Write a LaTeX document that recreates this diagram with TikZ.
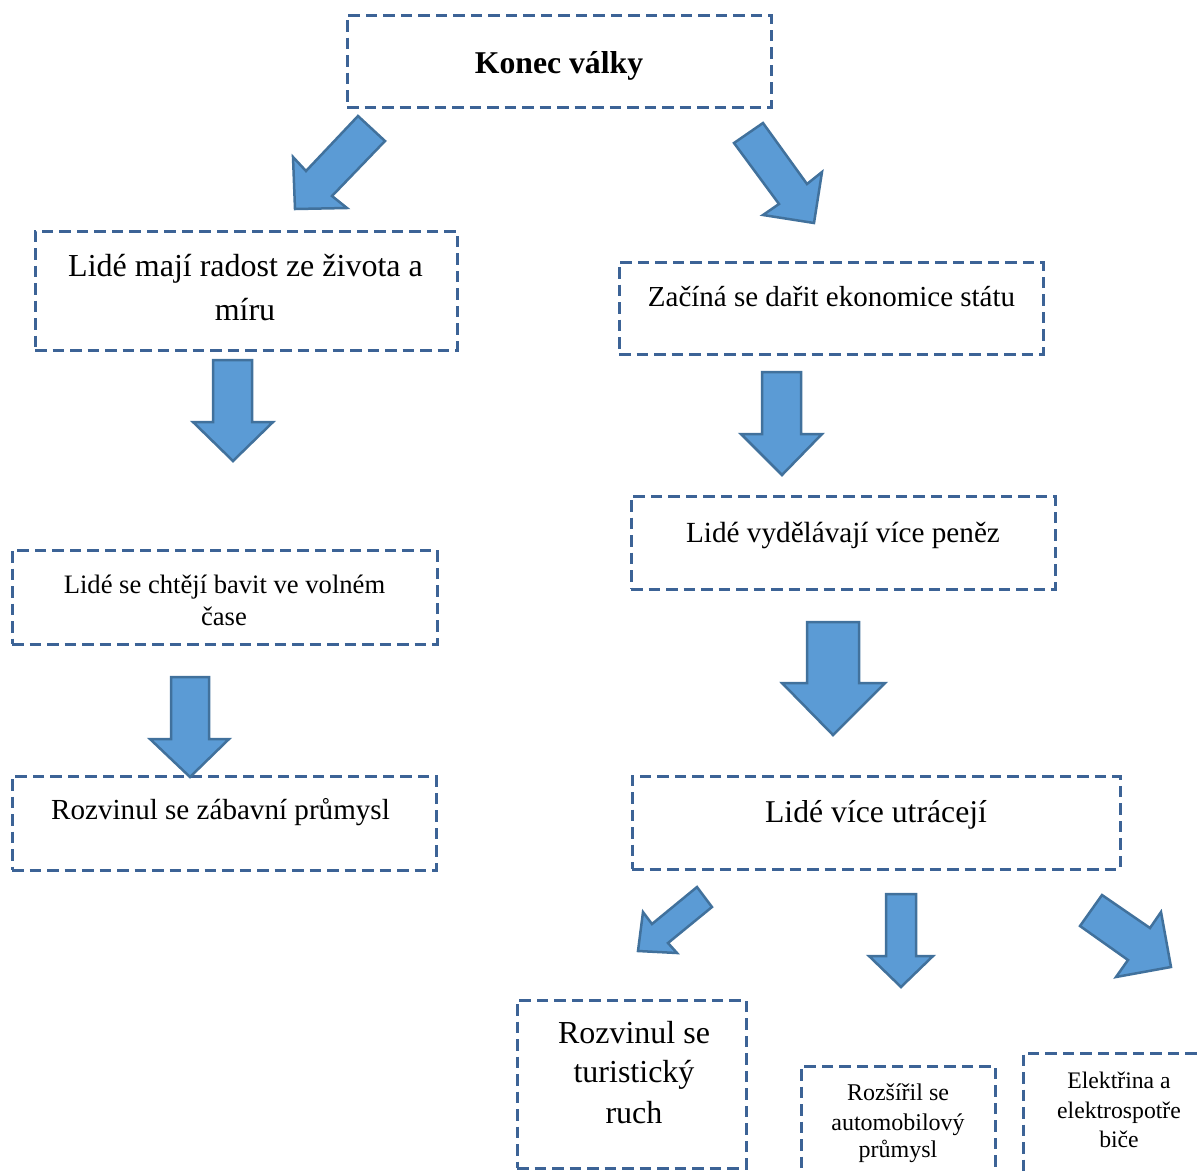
\documentclass[tikz,border=0pt]{standalone}
\usepackage{fontspec}
\setmainfont{Liberation Serif}
\definecolor{boxblue}{HTML}{3C6396}
\definecolor{arrowfill}{HTML}{5B9BD5}
\definecolor{arrowline}{HTML}{41719C}
\begin{document}
\begin{tikzpicture}[x=1pt,y=-1pt,
  dbox/.style={draw=boxblue, line width=3pt, dash pattern=on 11.5pt off 6pt, inner sep=0pt, rectangle},
  barrow/.style={fill=arrowfill, draw=arrowline, line width=2.5pt, line join=miter},
  txt/.style={anchor=base, inner sep=0pt}]
\useasboundingbox (0,0) rectangle (1200,1171);
\clip (0,0) rectangle (1200,1171);
% boxes
\node[dbox, minimum width=424pt, minimum height=92pt] (konec) at (559,61) {};
\node[dbox, minimum width=422pt, minimum height=119pt] (radost) at (246,290.5) {};
\node[dbox, minimum width=424pt, minimum height=92pt] (zacina) at (831,308) {};
\node[dbox, minimum width=424pt, minimum height=93pt] (vydel) at (843,542.5) {};
\node[dbox, minimum width=425pt, minimum height=94pt] (chteji) at (224.5,597) {};
\node[dbox, minimum width=424pt, minimum height=94pt] (zabavni) at (224,823) {};
\node[dbox, minimum width=488pt, minimum height=93pt] (utraceji) at (876,822.5) {};
\node[dbox, minimum width=229pt, minimum height=168pt] (turist) at (631.5,1084) {};
\node[dbox, minimum width=194pt, minimum height=134pt] (auto) at (898,1133) {};
\node[dbox, minimum width=197pt, minimum height=147pt] (elekt) at (1121.5,1126.5) {};
% texts
\node[txt, font=\fontsize{31.7}{38}\selectfont\bfseries] (t1) at (559,73) {Konec války};
\node[txt, font=\fontsize{32}{38}\selectfont] (t2a) at (245.5,276) {Lidé mají radost ze života a};
\node[txt, font=\fontsize{32}{38}\selectfont] (t2b) at (245,320) {míru};
\node[txt, font=\fontsize{29}{35}\selectfont] (t3) at (831.5,306) {Začíná se dařit ekonomice státu};
\node[txt, font=\fontsize{29.2}{35}\selectfont] (t4) at (843,542) {Lidé vydělávají více peněz};
\node[txt, font=\fontsize{26.6}{32}\selectfont] (t5a) at (224.5,593) {Lidé se chtějí bavit ve volném};
\node[txt, font=\fontsize{26.6}{32}\selectfont] (t5b) at (224,625) {čase};
\node[txt, font=\fontsize{29.1}{35}\selectfont] (t6) at (220.5,819) {Rozvinul se zábavní průmysl};
\node[txt, font=\fontsize{31.7}{38}\selectfont] (t7) at (876,822) {Lidé více utrácejí};
\node[txt, font=\fontsize{32}{38}\selectfont] (t8a) at (634,1043) {Rozvinul se};
\node[txt, font=\fontsize{32}{38}\selectfont] (t8b) at (634,1082) {turistický};
\node[txt, font=\fontsize{32}{38}\selectfont] (t8c) at (634,1123) {ruch};
\node[txt, font=\fontsize{24}{28}\selectfont] (t9a) at (898,1100) {Rozšířil se};
\node[txt, font=\fontsize{24}{28}\selectfont] (t9b) at (898,1130) {automobilový};
\node[txt, font=\fontsize{24}{28}\selectfont] (t9c) at (898,1157) {průmysl};
\node[txt, font=\fontsize{23.7}{28}\selectfont] (t10a) at (1119,1088) {Elektřina a};
\node[txt, font=\fontsize{23.7}{28}\selectfont] (t10b) at (1119,1118) {elektrospotře};
\node[txt, font=\fontsize{23.7}{28}\selectfont] (t10c) at (1119,1147) {biče};
% block arrows
\draw[barrow] (358,116) -- (385,141) -- (332,196) -- (347,208) -- (295,209) -- (293,157) -- (306,171) -- cycle;
\draw[barrow] (734,143) -- (763,123) -- (807,184) -- (822,172) -- (814,223) -- (763,215) -- (779,204) -- cycle;
\draw[barrow] (213,360) -- (252,360) -- (252,422) -- (273,422) -- (233,461) -- (193,422) -- (213,422) -- cycle;
\draw[barrow] (762,372) -- (801,372) -- (801,434) -- (822,434) -- (782,475) -- (741,434) -- (762,434) -- cycle;
\draw[barrow] (807,622) -- (859,622) -- (859,683) -- (885,683) -- (833,735) -- (782,683) -- (807,683) -- cycle;
\draw[barrow] (171,677) -- (209,677) -- (209,739) -- (229,739) -- (190,777) -- (150,739) -- (171,739) -- cycle;
\draw[barrow] (697,887) -- (712,907) -- (668,943) -- (677,953) -- (638,951) -- (643,912) -- (652,924) -- cycle;
\draw[barrow] (886,894) -- (916,894) -- (916,956) -- (933,956) -- (901,987) -- (869,956) -- (886,956) -- cycle;
\draw[barrow] (1080,926) -- (1102,895) -- (1150,928) -- (1161,912) -- (1171,967) -- (1116,977) -- (1128,960) -- cycle;
\end{tikzpicture}
\end{document}
